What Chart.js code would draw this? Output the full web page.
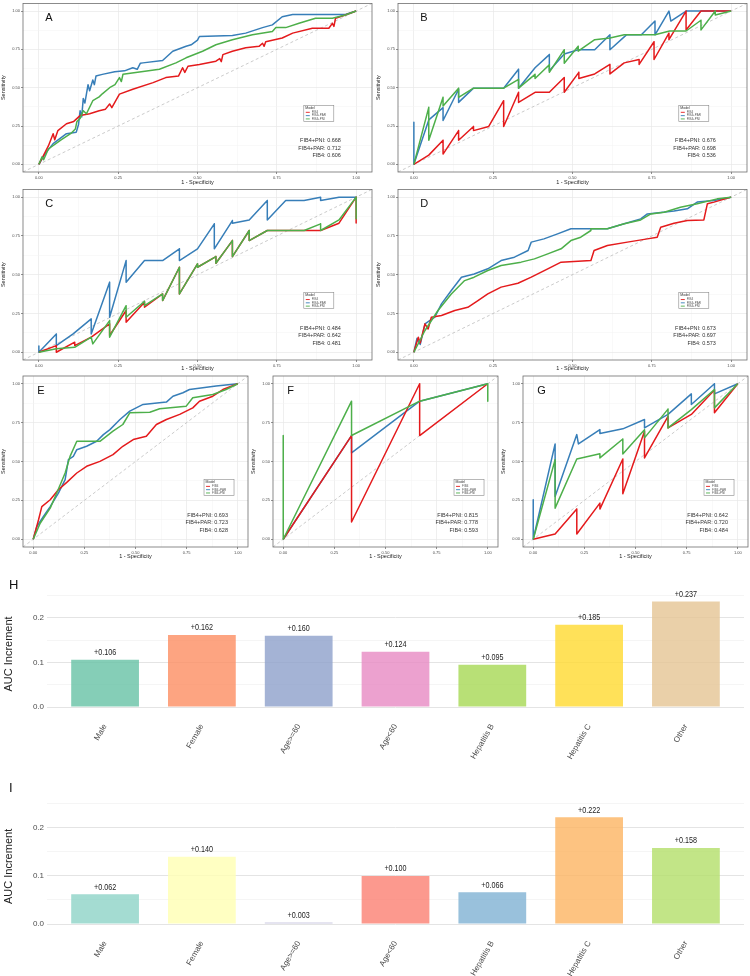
<!DOCTYPE html>
<html>
<head>
<meta charset="utf-8">
<script src="https://cdn.jsdelivr.net/npm/chart.js@4.4.1/dist/chart.umd.min.js"></script>
<style>
  body { margin: 0; background: #fff; width: 750px; height: 976px; position: relative; overflow: hidden; }
  canvas { position: absolute; }
</style>
</head>
<body>
<canvas id="cA"></canvas>
<canvas id="cB"></canvas>
<canvas id="cC"></canvas>
<canvas id="cD"></canvas>
<canvas id="cE"></canvas>
<canvas id="cF"></canvas>
<canvas id="cG"></canvas>
<canvas id="cH"></canvas>
<canvas id="cI"></canvas>
<script>
// ---- ROC data (1 - specificity, sensitivity) ----
const models = ['FIB4', 'FIB4+PAR', 'FIB4+PNI'];
const modelColors = ['#E41A1C', '#377EB8', '#4DAF4A'];
const rocTicks = [0, 0.25, 0.5, 0.75, 1];
const rocGrid = [0, 0.125, 0.25, 0.375, 0.5, 0.625, 0.75, 0.875, 1];
const diagonal = [[-0.05, -0.05], [1.05, 1.05]];

const rocA_fib4 = [[0,0],[0.02,0.08],[0.03,0.12],[0.045,0.2],[0.05,0.16],[0.06,0.22],[0.087,0.265],[0.11,0.28],[0.13,0.318],[0.16,0.33],[0.19,0.35],[0.21,0.36],[0.223,0.394],[0.23,0.37],[0.254,0.458],[0.296,0.49],[0.36,0.533],[0.4,0.566],[0.44,0.576],[0.453,0.63],[0.46,0.6],[0.47,0.64],[0.506,0.652],[0.558,0.673],[0.57,0.69],[0.575,0.67],[0.58,0.716],[0.61,0.738],[0.652,0.76],[0.694,0.77],[0.705,0.79],[0.71,0.77],[0.715,0.8],[0.767,0.824],[0.8,0.856],[0.862,0.888],[0.914,0.888],[0.925,0.92],[0.93,0.9],[0.935,0.953],[0.966,0.974],[1,1]];
const rocA_par = [[0,0],[0.02,0.07],[0.045,0.135],[0.087,0.2],[0.118,0.21],[0.125,0.26],[0.13,0.35],[0.135,0.31],[0.14,0.43],[0.145,0.4],[0.155,0.52],[0.16,0.48],[0.17,0.55],[0.175,0.52],[0.18,0.576],[0.2,0.587],[0.239,0.604],[0.27,0.61],[0.296,0.63],[0.31,0.62],[0.32,0.66],[0.328,0.662],[0.39,0.677],[0.422,0.738],[0.464,0.77],[0.48,0.78],[0.5,0.81],[0.506,0.834],[0.61,0.84],[0.652,0.856],[0.705,0.892],[0.736,0.91],[0.767,0.963],[0.8,0.978],[0.966,0.978],[1,1]];
const rocA_pni = [[0,0],[0.01,0.05],[0.015,0.03],[0.03,0.1],[0.07,0.16],[0.1,0.2],[0.115,0.23],[0.12,0.28],[0.13,0.3],[0.14,0.35],[0.15,0.33],[0.17,0.415],[0.19,0.44],[0.2,0.46],[0.223,0.5],[0.24,0.52],[0.254,0.566],[0.26,0.54],[0.265,0.587],[0.317,0.602],[0.38,0.62],[0.432,0.662],[0.464,0.695],[0.516,0.738],[0.558,0.78],[0.61,0.813],[0.673,0.845],[0.736,0.867],[0.747,0.892],[0.778,0.892],[0.82,0.92],[0.872,0.953],[0.925,0.953],[0.966,0.974],[1,1]];
const aucA = [0.606, 0.712, 0.668];

const rocB_fib4 = [[0,0],[0.047,0.06],[0.092,0.157],[0.092,0.067],[0.141,0.22],[0.141,0.157],[0.188,0.247],[0.188,0.22],[0.236,0.247],[0.283,0.415],[0.283,0.247],[0.33,0.47],[0.33,0.404],[0.382,0.47],[0.427,0.47],[0.474,0.566],[0.474,0.47],[0.52,0.6],[0.52,0.56],[0.57,0.59],[0.618,0.652],[0.618,0.59],[0.663,0.662],[0.71,0.684],[0.71,0.652],[0.757,0.8],[0.757,0.684],[0.804,0.856],[0.804,0.813],[0.858,1],[0.858,0.877],[0.905,1],[1,1]];
const rocB_par = [[0,0.275],[0,0],[0.047,0.29],[0.092,0.37],[0.092,0.286],[0.141,0.49],[0.141,0.404],[0.188,0.497],[0.283,0.497],[0.33,0.62],[0.33,0.497],[0.382,0.63],[0.427,0.716],[0.427,0.61],[0.474,0.72],[0.518,0.748],[0.57,0.748],[0.618,0.845],[0.618,0.748],[0.67,0.845],[0.717,0.845],[0.76,0.935],[0.76,0.845],[0.804,1],[0.81,0.935],[0.858,1],[1,1]];
const rocB_pni = [[0,0],[0.047,0.372],[0.047,0.157],[0.092,0.437],[0.092,0.38],[0.141,0.497],[0.141,0.437],[0.188,0.497],[0.283,0.497],[0.33,0.555],[0.33,0.497],[0.382,0.587],[0.382,0.56],[0.427,0.65],[0.427,0.6],[0.474,0.748],[0.474,0.66],[0.518,0.77],[0.518,0.738],[0.57,0.813],[0.618,0.824],[0.663,0.845],[0.76,0.845],[0.806,0.87],[0.858,0.87],[0.905,0.94],[0.905,0.877],[0.95,1],[0.95,0.974],[1,1]];
const aucB = [0.536, 0.698, 0.676];

const rocC_fib4 = [[0,0],[0.055,0.043],[0.055,0],[0.113,0.065],[0.113,0.043],[0.165,0.097],[0.223,0.183],[0.223,0.108],[0.275,0.269],[0.275,0.194],[0.333,0.323],[0.333,0.29],[0.39,0.376],[0.39,0.333],[0.443,0.548],[0.443,0.376],[0.5,0.57],[0.5,0.548],[0.558,0.617],[0.558,0.574],[0.61,0.72],[0.61,0.617],[0.663,0.785],[0.663,0.72],[0.72,0.785],[0.836,0.785],[0.888,0.785],[0.946,0.832],[1,1],[1,0.834]];
const rocC_par = [[0,0.04],[0,0],[0.055,0.118],[0.055,0.043],[0.108,0.118],[0.165,0.215],[0.165,0.118],[0.223,0.452],[0.223,0.226],[0.275,0.591],[0.275,0.452],[0.333,0.591],[0.39,0.591],[0.443,0.667],[0.443,0.591],[0.5,0.667],[0.553,0.828],[0.553,0.667],[0.61,0.849],[0.61,0.832],[0.663,0.853],[0.72,0.978],[0.72,0.853],[0.778,0.978],[0.836,0.978],[0.888,1],[0.888,0.978],[0.946,1],[1,1]];
const rocC_pni = [[0,0],[0.055,0.022],[0.113,0.032],[0.165,0.097],[0.17,0.054],[0.223,0.204],[0.223,0.097],[0.275,0.3],[0.275,0.226],[0.333,0.329],[0.333,0.3],[0.39,0.376],[0.39,0.333],[0.443,0.548],[0.443,0.376],[0.5,0.57],[0.5,0.548],[0.558,0.617],[0.558,0.574],[0.61,0.72],[0.61,0.617],[0.663,0.785],[0.663,0.72],[0.72,0.785],[0.836,0.785],[0.888,0.828],[0.888,0.785],[0.946,0.853],[1,1],[1,0.86]];
const aucC = [0.481, 0.642, 0.484];

const rocD_fib4 = [[0,0],[0.014,0.097],[0.02,0.06],[0.035,0.183],[0.045,0.15],[0.055,0.226],[0.087,0.237],[0.129,0.269],[0.17,0.29],[0.202,0.333],[0.233,0.376],[0.275,0.42],[0.328,0.445],[0.37,0.484],[0.422,0.538],[0.464,0.581],[0.558,0.591],[0.568,0.656],[0.61,0.688],[0.673,0.71],[0.736,0.731],[0.767,0.742],[0.778,0.806],[0.82,0.832],[0.862,0.849],[0.914,0.853],[0.925,0.957],[0.946,0.968],[1,1]];
const rocD_par = [[0,0],[0.01,0.09],[0.02,0.05],[0.035,0.183],[0.066,0.226],[0.087,0.312],[0.118,0.398],[0.15,0.484],[0.19,0.505],[0.233,0.538],[0.275,0.591],[0.317,0.613],[0.36,0.656],[0.37,0.71],[0.41,0.731],[0.453,0.763],[0.495,0.796],[0.61,0.796],[0.663,0.828],[0.715,0.86],[0.736,0.892],[0.82,0.91],[0.862,0.925],[0.893,0.968],[0.946,0.978],[1,1]];
const rocD_pni = [[0,0],[0.035,0.14],[0.076,0.269],[0.118,0.376],[0.16,0.462],[0.19,0.484],[0.233,0.527],[0.275,0.559],[0.338,0.581],[0.38,0.602],[0.422,0.634],[0.464,0.667],[0.495,0.72],[0.526,0.742],[0.558,0.785],[0.558,0.796],[0.61,0.796],[0.663,0.828],[0.715,0.853],[0.747,0.892],[0.789,0.903],[0.84,0.935],[0.893,0.957],[0.956,0.989],[1,1]];
const aucD = [0.573, 0.697, 0.673];

const rocE_fib4 = [[0,0],[0.026,0.125],[0.042,0.21],[0.083,0.254],[0.123,0.318],[0.164,0.366],[0.213,0.426],[0.261,0.469],[0.326,0.501],[0.39,0.544],[0.438,0.598],[0.489,0.641],[0.553,0.662],[0.602,0.738],[0.651,0.77],[0.716,0.803],[0.78,0.845],[0.813,0.888],[0.878,0.92],[0.927,0.963],[1,1]];
const rocE_par = [[0,0],[0.018,0.082],[0.05,0.146],[0.083,0.21],[0.123,0.297],[0.156,0.383],[0.172,0.512],[0.196,0.533],[0.213,0.576],[0.261,0.598],[0.31,0.63],[0.343,0.673],[0.375,0.705],[0.424,0.77],[0.472,0.824],[0.537,0.867],[0.651,0.882],[0.683,0.92],[0.732,0.942],[0.764,0.963],[0.894,0.985],[1,1]];
const rocE_pni = [[0,0],[0.034,0.103],[0.083,0.2],[0.115,0.297],[0.156,0.426],[0.18,0.533],[0.213,0.63],[0.261,0.63],[0.326,0.63],[0.39,0.695],[0.438,0.738],[0.472,0.813],[0.57,0.817],[0.618,0.839],[0.748,0.856],[0.78,0.91],[0.878,0.931],[0.943,0.963],[1,1]];
const aucE = [0.628, 0.723, 0.693];

const rocF_fib4 = [[0,0],[0.334,0.667],[0.334,0.111],[0.667,1],[0.667,0.667],[1,1]];
const rocF_par = [[0,0],[0.334,0.667],[0.334,0.555],[0.667,0.888],[1,1]];
const rocF_pni = [[0,0.667],[0,0],[0.334,0.888],[0.334,0.667],[0.667,0.888],[1,1],[1,0.888]];
const aucF = [0.593, 0.778, 0.815];

const rocG_fib4 = [[0,0],[0.107,0.034],[0.213,0.194],[0.213,0.034],[0.326,0.232],[0.326,0.194],[0.438,0.516],[0.438,0.292],[0.544,0.695],[0.544,0.523],[0.659,0.791],[0.659,0.716],[0.773,0.803],[0.886,0.96],[0.886,0.813],[1,1]];
const rocG_par = [[0,0.254],[0,0],[0.107,0.613],[0.107,0.275],[0.213,0.673],[0.221,0.613],[0.326,0.705],[0.326,0.68],[0.438,0.71],[0.544,0.77],[0.544,0.716],[0.659,0.803],[0.773,0.935],[0.773,0.867],[0.886,1],[0.886,0.935],[1,1]];
const rocG_pni = [[0,0],[0.107,0.512],[0.107,0.2],[0.213,0.516],[0.326,0.55],[0.326,0.523],[0.438,0.645],[0.438,0.548],[0.544,0.705],[0.544,0.652],[0.659,0.837],[0.659,0.716],[0.773,0.834],[0.886,0.963],[0.886,0.845],[1,1]];
const aucG = [0.484, 0.720, 0.642];

// ---- AUC increment bars ----
const groups = ['Male', 'Female', 'Age>=60', 'Age<60', 'Hepatitis B', 'Hepatitis C', 'Other'];
const incrementPAR = [0.106, 0.162, 0.160, 0.124, 0.095, 0.185, 0.237];
const incrementPNI = [0.062, 0.140, 0.003, 0.100, 0.066, 0.222, 0.158];
const set2 = ['#66C2A5', '#FC8D62', '#8DA0CB', '#E78AC3', '#A6D854', '#FFD92F', '#E5C494'];
const set3 = ['#8DD3C7', '#FFFFB3', '#BEBADA', '#FB8072', '#80B1D3', '#FDB462', '#B3DE69'];
const barTicks = [0, 0.1, 0.2];
const barGrid = [0, 0.05, 0.1, 0.15, 0.2, 0.25];

Chart.defaults.font.family = "'Liberation Sans', Arial, sans-serif";

// box = canvas [left, top, width, height]; area = plot [left, top, right, bottom], page px
const rocPanels = [
  { id: 'A', box: [0, 0, 375, 186],   area: [23, 2, 372, 172],    curves: [rocA_fib4, rocA_par, rocA_pni], auc: aucA },
  { id: 'B', box: [375, 0, 375, 186], area: [398, 2, 747, 172],   curves: [rocB_fib4, rocB_par, rocB_pni], auc: aucB },
  { id: 'C', box: [0, 186, 375, 186], area: [23, 189, 372, 360],  curves: [rocC_fib4, rocC_par, rocC_pni], auc: aucC },
  { id: 'D', box: [375, 186, 375, 186], area: [398, 189, 747, 360], curves: [rocD_fib4, rocD_par, rocD_pni], auc: aucD },
  { id: 'E', box: [0, 372, 250, 188], area: [23, 376, 248, 547],  curves: [rocE_fib4, rocE_par, rocE_pni], auc: aucE },
  { id: 'F', box: [250, 372, 250, 188], area: [273, 376, 498, 547], curves: [rocF_fib4, rocF_par, rocF_pni], auc: aucF },
  { id: 'G', box: [500, 372, 250, 188], area: [523, 376, 748, 547], curves: [rocG_fib4, rocG_par, rocG_pni], auc: aucG }
];

function placeCanvas(canvas, box) {
  canvas.width = box[2];
  canvas.height = box[3];
  canvas.style.left = box[0] + 'px';
  canvas.style.top = box[1] + 'px';
}

// border, panel letter, legend box and AUC text on top of the curves
function rocDecor(p) {
  return {
    id: 'rocDecor' + p.id,
    afterDraw(chart) {
      const ctx = chart.ctx;
      const a = chart.chartArea;
      const xs = chart.scales.x, ys = chart.scales.y;
      ctx.save();
      ctx.strokeStyle = '#6e6e6e';
      ctx.lineWidth = 0.8;
      ctx.strokeRect(a.left, a.top, a.right - a.left, a.bottom - a.top);

      ctx.fillStyle = '#111';
      ctx.font = "11px 'Liberation Sans', Arial, sans-serif";
      ctx.textBaseline = 'middle';
      ctx.textAlign = 'left';
      ctx.fillText(p.id, xs.getPixelForValue(0.02), ys.getPixelForValue(0.955));

      // legend
      const lx = xs.getPixelForValue(0.835), ly = ys.getPixelForValue(0.385);
      ctx.fillStyle = '#fff';
      ctx.fillRect(lx, ly, 30, 16);
      ctx.strokeStyle = '#8a8a8a';
      ctx.lineWidth = 0.6;
      ctx.strokeRect(lx, ly, 30, 16);
      ctx.fillStyle = '#333';
      ctx.font = "3.5px 'Liberation Sans', Arial, sans-serif";
      ctx.fillText('Model', lx + 1.5, ly + 2.8);
      models.forEach((m, i) => {
        const yy = ly + 7 + i * 3.3;
        ctx.strokeStyle = modelColors[i];
        ctx.lineWidth = 0.9;
        ctx.beginPath();
        ctx.moveTo(lx + 2, yy);
        ctx.lineTo(lx + 6, yy);
        ctx.stroke();
        ctx.fillStyle = '#555';
        ctx.font = "3px 'Liberation Sans', Arial, sans-serif";
        ctx.fillText(m, lx + 8, yy);
      });

      // AUC annotations
      ctx.fillStyle = '#333';
      ctx.font = "5.5px 'Liberation Sans', Arial, sans-serif";
      ctx.textAlign = 'right';
      const rx = xs.getPixelForValue(0.952);
      const rows = [2, 1, 0];
      const rowY = [0.155, 0.105, 0.056];
      rows.forEach((m, k) => {
        ctx.fillText(models[m] + ': ' + p.auc[m].toFixed(3), rx, ys.getPixelForValue(rowY[k]));
      });
      ctx.restore();
    }
  };
}

function rocAxis(isX, p) {
  return {
    type: 'linear',
    min: -0.05,
    max: 1.05,
    afterBuildTicks: s => { s.ticks = rocGrid.map(v => ({ value: v })); },
    ticks: {
      autoSkip: false,
      maxRotation: 0,
      font: { size: 4 },
      color: '#4d4d4d',
      padding: 1,
      callback: v => rocTicks.includes(v) ? v.toFixed(2) : ''
    },
    grid: {
      color: c => rocTicks.includes(c.tick && c.tick.value) ? '#e8e8e8' : '#f3f3f3',
      lineWidth: c => rocTicks.includes(c.tick && c.tick.value) ? 0.7 : 0.5,
      tickLength: 2,
      tickColor: c => rocTicks.includes(c.tick && c.tick.value) ? '#444' : 'rgba(0,0,0,0)',
      tickWidth: 0.6
    },
    border: { display: false },
    title: {
      display: true,
      text: isX ? '1 - Specificity' : 'Sensitivity',
      font: { size: 5.5 },
      color: '#222',
      padding: isX ? { top: 1, bottom: 0 } : 0
    },
    afterFit: s => {
      if (isX) s.height = p.box[1] + p.box[3] - p.area[3];
      else s.width = p.area[0] - p.box[0];
    }
  };
}

function drawRoc(p) {
  const canvas = document.getElementById('c' + p.id);
  placeCanvas(canvas, p.box);
  const curve = (m, order) => ({
    label: models[m],
    data: p.curves[m],
    showLine: true,
    borderColor: modelColors[m],
    borderWidth: 1.5,
    borderJoinStyle: 'round',
    pointRadius: 0,
    tension: 0,
    order: order
  });
  new Chart(canvas, {
    type: 'scatter',
    data: {
      datasets: [
        curve(2, 0), curve(0, 1), curve(1, 2),
        { label: 'ref', data: diagonal, showLine: true, borderColor: '#b5b5b5', borderWidth: 0.7,
          borderDash: [3, 2.5], pointRadius: 0, order: 3 }
      ]
    },
    options: {
      responsive: false,
      animation: false,
      layout: { padding: { left: 0, top: p.area[1] - p.box[1], right: p.box[0] + p.box[2] - p.area[2], bottom: 0 } },
      scales: { x: rocAxis(true, p), y: rocAxis(false, p) },
      plugins: { legend: { display: false }, tooltip: { enabled: false } }
    },
    plugins: [rocDecor(p)]
  });
}

rocPanels.forEach(drawRoc);

// ---- bar charts H and I ----
const barPanels = [
  { id: 'H', box: [0, 560, 750, 200], values: incrementPAR, colors: set2, top: 595.5, bottom: 712.4, min: -0.012 },
  { id: 'I', box: [0, 760, 750, 216], values: incrementPNI, colors: set3, top: 803.5, bottom: 929.3, min: -0.011 }
];

function barDecor(p) {
  return {
    id: 'barDecor' + p.id,
    afterDatasetsDraw(chart) {
      const ctx = chart.ctx;
      ctx.save();
      ctx.fillStyle = '#222';
      ctx.font = "9px 'Liberation Sans', Arial, sans-serif";
      ctx.textAlign = 'center';
      ctx.textBaseline = 'bottom';
      // value labels, horizontally condensed like the original
      chart.getDatasetMeta(0).data.forEach((bar, i) => {
        ctx.save();
        ctx.translate(bar.x, bar.y - 2.5);
        ctx.scale(0.8, 1);
        ctx.fillText('+' + p.values[i].toFixed(3), 0, 0);
        ctx.restore();
      });
      ctx.fillStyle = '#111';
      ctx.font = "13px 'Liberation Sans', Arial, sans-serif";
      ctx.textAlign = 'left';
      ctx.textBaseline = 'middle';
      ctx.fillText(p.id, 9, p.id === 'H' ? 25 : 28);
      ctx.restore();
    }
  };
}

function drawBars(p) {
  const canvas = document.getElementById('c' + p.id);
  placeCanvas(canvas, p.box);
  new Chart(canvas, {
    type: 'bar',
    data: {
      datasets: [{
        data: p.values.map((v, i) => ({ x: i + 1, y: v })),
        backgroundColor: p.colors.map(c => c + 'CC'),
        borderWidth: 0,
        barPercentage: 0.7,
        categoryPercentage: 1
      }]
    },
    options: {
      responsive: false,
      animation: false,
      layout: { padding: { left: 0, top: p.top - p.box[1], right: 6, bottom: 0 } },
      scales: {
        x: {
          type: 'linear',
          offset: false,
          min: 0.4,
          max: 7.6,
          afterBuildTicks: s => { s.ticks = groups.map((g, i) => ({ value: i + 1 })); },
          ticks: {
            autoSkip: false,
            minRotation: 60,
            maxRotation: 60,
            font: { size: 8 },
            color: '#4d4d4d',
            padding: 2,
            callback: v => groups[v - 1]
          },
          grid: { display: false, offset: false },
          border: { display: false },
          afterFit: s => { s.height = p.box[1] + p.box[3] - p.bottom; }
        },
        y: {
          min: p.min,
          max: 0.2505,
          afterBuildTicks: s => { s.ticks = barGrid.map(v => ({ value: v })); },
          ticks: {
            font: { size: 8 },
            color: '#4d4d4d',
            padding: 3,
            callback: v => barTicks.includes(v) ? v.toFixed(1) : ''
          },
          grid: {
            color: c => barTicks.includes(c.tick && c.tick.value) ? '#e4e4e4' : '#f1f1f1',
            lineWidth: c => barTicks.includes(c.tick && c.tick.value) ? 1 : 0.7,
            drawTicks: false
          },
          border: { display: false },
          title: { display: true, text: 'AUC Increment', font: { size: 11 }, color: '#222', padding: 2 },
          afterFit: s => { s.width = 47; }
        }
      },
      plugins: { legend: { display: false }, tooltip: { enabled: false } }
    },
    plugins: [barDecor(p)]
  });
}

barPanels.forEach(drawBars);
</script>
</body>
</html>
